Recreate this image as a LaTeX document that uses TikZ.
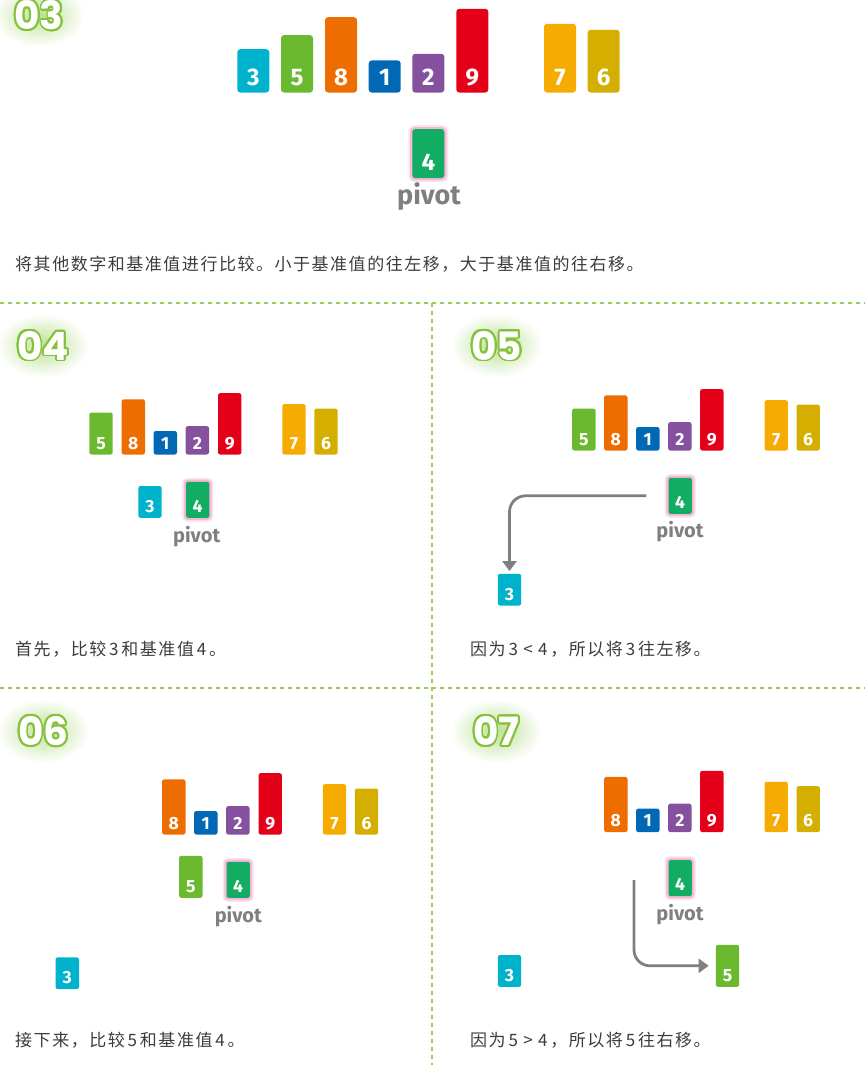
\documentclass[tikz,border=0pt]{standalone}
\usepackage{fontspec}
\setmainfont{Fira Sans}
\newfontfamily\cjk{Noto Sans CJK SC}[LetterSpace=9]
\newfontfamily\lblfont{Poppins}
\usetikzlibrary{arrows.meta,calc}
\definecolor{cthree}{HTML}{00B3CC}
\definecolor{cfive}{HTML}{6BB92E}
\definecolor{ceight}{HTML}{EE6D00}
\definecolor{cone}{HTML}{0068B5}
\definecolor{ctwo}{HTML}{85519E}
\definecolor{cnine}{HTML}{E50019}
\definecolor{cseven}{HTML}{F6AB00}
\definecolor{csix}{HTML}{D4AE00}
\definecolor{cfour}{HTML}{12AD63}
\definecolor{pinkglow}{HTML}{F2A7CB}
\definecolor{agray}{HTML}{7F7F7F}
\definecolor{lgreen}{HTML}{9ACB58}
\definecolor{lblgreen}{HTML}{84C23A}
\definecolor{glowgreen}{HTML}{BCE095}
\definecolor{tgray}{HTML}{3C3C3C}
\newcommand\numbar[8][]{%
  \node[#8box=#5, fill=#6, #1] (#2) at (#3,#4) {};
  \node[#8dig] (#2t) at (#2.south) {#7};}
\newcommand\steplabel[4]{%
  \shade[inner color=glowgreen, outer color=white] (#2,#3) ellipse (46 and 32);
  \foreach \a in {0,20,...,340}{\node[lblo] (#1o\a) at ($(#2,#3)+(\a:1.8)$) {#4};}
  \node[lbli] (#1) at (#2,#3) {#4};}
\begin{document}
\begin{tikzpicture}[x=1pt,y=-1pt,
  Bbox/.style={rounded corners=3pt, minimum width=32pt, minimum height=#1, inner sep=0pt, anchor=south},
  Sbox/.style={rounded corners=2.2pt, minimum width=23.4pt, minimum height=0.733*#1, inner sep=0pt, anchor=south},
  Bdig/.style={text=white, font=\bfseries\fontsize{24}{24}\selectfont, anchor=base, inner sep=0pt, yshift=7.6pt},
  Sdig/.style={text=white, font=\bfseries\fontsize{17.6}{18}\selectfont, anchor=base, inner sep=0pt, yshift=5.6pt},
  pivot/.style={preaction={draw=pinkglow, line width=8pt, opacity=0.3}, preaction={draw=pinkglow, line width=4.5pt, opacity=0.7}},
  Bpivotlbl/.style={text=agray, font=\bfseries\fontsize{27}{27}\selectfont, anchor=base, inner sep=0pt},
  Spivotlbl/.style={text=agray, font=\bfseries\fontsize{20}{20}\selectfont, anchor=base, inner sep=0pt},
  lblo/.style={text=lblgreen, font=\lblfont\bfseries\fontsize{39}{39}\selectfont, inner sep=0pt},
  lbli/.style={text=white, font=\lblfont\bfseries\fontsize{39}{39}\selectfont, inner sep=0pt},
  desc/.style={anchor=base west, inner sep=0pt, text=tgray, font=\cjk\fontsize{17}{20}\selectfont},
  divider/.style={draw=lgreen, line width=1.6pt, dash pattern=on 4pt off 4pt},
  arrowline/.style={draw=agray, line width=2.8pt, rounded corners=16pt, -{Triangle[length=10pt,width=14pt]}}
]
\useasboundingbox (0,0) rectangle (865,1065);

% dividers
\draw[divider] (0,303) -- (865,303);
\draw[divider] (0,688) -- (865,688);
\draw[divider] (432,303) -- (432,1065);

% step labels
\steplabel{l03}{39}{15}{03}
\steplabel{l04}{43}{345.5}{04}
\steplabel{l05}{496.7}{345.5}{05}
\steplabel{l06}{43.3}{731}{06}
\steplabel{l07}{496.3}{731}{07}

% panel 03
\numbar{a3}{253.3}{92.7}{43.3}{cthree}{3}{B}
\numbar{a5}{297}{92.7}{57.3}{cfive}{5}{B}
\numbar{a8}{341}{92.7}{75.3}{ceight}{8}{B}
\numbar{a1}{384.7}{92.7}{32}{cone}{1}{B}
\numbar{a2}{428.3}{92.7}{38.7}{ctwo}{2}{B}
\numbar{a9}{472.3}{92.7}{83.7}{cnine}{9}{B}
\numbar{a7}{560}{92.7}{68.7}{cseven}{7}{B}
\numbar{a6}{603.7}{92.7}{62.7}{csix}{6}{B}
\numbar[pivot]{a4}{428.3}{178.3}{49}{cfour}{4}{B}
\node[Bpivotlbl] (apv) at (429,204.5) {pivot};
\node[desc] (atxt) at (15,270.3) {将其他数字和基准值进行比较。小于基准值的往左移，大于基准值的往右移。};

% panel 04
\numbar{b5}{101}{454.7}{57.3}{cfive}{5}{S}
\numbar{b8}{133.3}{454.7}{75.3}{ceight}{8}{S}
\numbar{b1}{165.3}{454.7}{32}{cone}{1}{S}
\numbar{b2}{197.3}{454.7}{38.7}{ctwo}{2}{S}
\numbar{b9}{229.7}{454.7}{83.7}{cnine}{9}{S}
\numbar{b7}{294}{454.7}{68.7}{cseven}{7}{S}
\numbar{b6}{326}{454.7}{62.7}{csix}{6}{S}
\numbar{b3}{150}{518}{43.3}{cthree}{3}{S}
\numbar[pivot]{b4}{197.7}{518}{49}{cfour}{4}{S}
\node[Spivotlbl] (bpv) at (196.7,542.5) {pivot};
\node[desc] (btxt) at (15,655.3) {首先，比较\,3\,和基准值\,4\,。};

% panel 05
\numbar{c5}{583.8}{450.7}{57.3}{cfive}{5}{S}
\numbar{c8}{615.8}{450.7}{75.3}{ceight}{8}{S}
\numbar{c1}{647.8}{450.7}{32}{cone}{1}{S}
\numbar{c2}{679.8}{450.7}{38.7}{ctwo}{2}{S}
\numbar{c9}{711.8}{450.7}{83.7}{cnine}{9}{S}
\numbar{c7}{776.2}{450.7}{68.7}{cseven}{7}{S}
\numbar{c6}{808.2}{450.7}{62.7}{csix}{6}{S}
\numbar[pivot]{c4}{680.2}{514}{49}{cfour}{4}{S}
\numbar{c3}{509.5}{605.7}{43.3}{cthree}{3}{S}
\node[Spivotlbl] (cpv) at (680,537.7) {pivot};
\coordinate (cs) at ([xshift=-22pt]c4.west);
\draw[arrowline] (cs) -| ([yshift=2.5pt]c3.north);
\node[desc] (ctxt) at (470,655.3) {因为\,3 < 4\,，所以将\,3\,往左移。};

% panel 06
\numbar{d8}{173.8}{834.7}{75.3}{ceight}{8}{S}
\numbar{d1}{205.8}{834.7}{32}{cone}{1}{S}
\numbar{d2}{237.8}{834.7}{38.7}{ctwo}{2}{S}
\numbar{d9}{270.2}{834.7}{83.7}{cnine}{9}{S}
\numbar{d7}{334.5}{834.7}{68.7}{cseven}{7}{S}
\numbar{d6}{366.5}{834.7}{62.7}{csix}{6}{S}
\numbar{d5}{190.8}{898}{57.3}{cfive}{5}{S}
\numbar[pivot]{d4}{238.2}{898}{49}{cfour}{4}{S}
\numbar{d3}{67.3}{989.3}{43.3}{cthree}{3}{S}
\node[Spivotlbl] (dpv) at (238.3,922.7) {pivot};
\node[desc] (dtxt) at (15,1046.5) {接下来，比较\,5\,和基准值\,4\,。};

% panel 07
\numbar{e8}{615.8}{832.3}{75.3}{ceight}{8}{S}
\numbar{e1}{647.8}{832.3}{32}{cone}{1}{S}
\numbar{e2}{679.8}{832.3}{38.7}{ctwo}{2}{S}
\numbar{e9}{711.8}{832.3}{83.7}{cnine}{9}{S}
\numbar{e7}{776.2}{832.3}{68.7}{cseven}{7}{S}
\numbar{e6}{808.2}{832.3}{62.7}{csix}{6}{S}
\numbar[pivot]{e4}{680.2}{896.3}{49}{cfour}{4}{S}
\numbar{e3}{509.5}{987}{43.3}{cthree}{3}{S}
\numbar{e5}{727.5}{987}{57.3}{cfive}{5}{S}
\node[Spivotlbl] (epv) at (680,920) {pivot};
\coordinate (es) at (634,880);
\draw[arrowline] (es) |- ([xshift=-7pt]e5.west);
\node[desc] (etxt) at (470,1046.5) {因为\,5 > 4\,，所以将\,5\,往右移。};
\end{tikzpicture}
\end{document}
